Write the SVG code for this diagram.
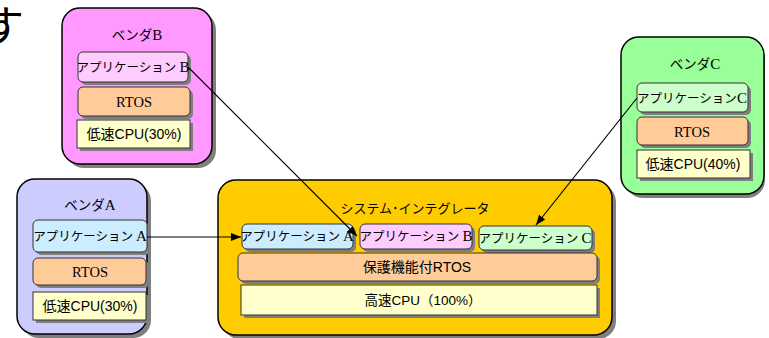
<svg xmlns="http://www.w3.org/2000/svg" width="769" height="338" viewBox="0 0 769 338">
<defs>
<style>
.big{stroke:#000;stroke-width:1.5}
.sh{fill:#7f7f7f}
.in{stroke:#333;stroke-width:1}
.ser{font-family:"Liberation Serif","Noto Sans CJK JP",serif;font-size:12.5px;fill:#000;text-anchor:middle}
.ttl{font-size:13.5px}
.rt{font-size:14.5px}
.L{font-size:15px}
.san{font-family:"Liberation Sans","Noto Sans CJK JP",sans-serif;font-size:14px;fill:#000;text-anchor:middle}
.con{stroke:#000;stroke-width:1.2;fill:none;marker-end:url(#ah)}
</style>
<marker id="ah" viewBox="0 0 10 8" refX="10" refY="4" markerWidth="10" markerHeight="8" markerUnits="userSpaceOnUse" orient="auto">
<path d="M0,0 L10,4 L0,8 Z" fill="#000"/>
</marker>
</defs>
<rect width="769" height="338" fill="#fff"/>
<text x="-19" y="42" style="font-family:'Noto Sans CJK JP',sans-serif;font-size:43px;fill:#000">す</text>

<g id="vendorB">
<rect x="66" y="12" width="150" height="156" rx="18" class="sh"/>
<rect x="62" y="8" width="150" height="156" rx="18" fill="#FF99FF" class="big"/>
<text x="137" y="40" class="ser ttl">ベンダ<tspan class="L">B</tspan></text>
<rect x="81" y="55" width="110" height="30" rx="5" class="sh"/>
<rect x="78" y="52" width="110" height="30" rx="5" fill="#FFCCFF" class="in"/>
<text x="133" y="72" class="ser">アプリケーション <tspan class="L">B</tspan></text>
<rect x="81" y="90" width="112" height="29" rx="5" class="sh"/>
<rect x="78" y="87" width="112" height="29" rx="5" fill="#FFCC99" class="in"/>
<text x="134" y="107" class="ser rt">RTOS</text>
<rect x="80" y="123" width="113" height="28" class="sh"/>
<rect x="77" y="120" width="113" height="28" fill="#FFFFCC" class="in"/>
<text x="134" y="139" class="san">低速CPU(30%)</text>
</g>

<g id="vendorC">
<rect x="625" y="41" width="140" height="157" rx="18" class="sh"/>
<rect x="621" y="37" width="143" height="157" rx="18" fill="#99FF99" class="big"/>
<text x="695" y="69" class="ser ttl">ベンダ<tspan class="L">C</tspan></text>
<rect x="640" y="86" width="111" height="29" rx="5" class="sh"/>
<rect x="637" y="83" width="111" height="29" rx="5" fill="#CCFFCC" class="in"/>
<text x="692" y="103" class="ser">アプリケーション<tspan class="L">C</tspan></text>
<rect x="640" y="120" width="111" height="28" rx="5" class="sh"/>
<rect x="637" y="117" width="111" height="28" rx="5" fill="#FFCC99" class="in"/>
<text x="692" y="137" class="ser rt">RTOS</text>
<rect x="640" y="153" width="113" height="28" class="sh"/>
<rect x="637" y="150" width="113" height="28" fill="#FFFFCC" class="in"/>
<text x="693" y="169" class="san">低速CPU(40%)</text>
</g>

<g id="vendorA">
<rect x="21" y="183" width="130" height="155" rx="18" class="sh"/>
<rect x="17" y="179" width="130" height="155" rx="18" fill="#CCCCFF" class="big"/>
<text x="90" y="210" class="ser ttl">ベンダ<tspan class="L">A</tspan></text>
<rect x="36" y="223" width="114" height="32" rx="5" class="sh"/>
<rect x="33" y="220" width="114" height="32" rx="5" fill="#CCECFF" class="in"/>
<text x="90" y="241" class="ser">アプリケーション <tspan class="L">A</tspan></text>
<rect x="36" y="261" width="113" height="27" rx="5" class="sh"/>
<rect x="33" y="258" width="113" height="27" rx="5" fill="#FFCC99" class="in"/>
<text x="90" y="277" class="ser rt">RTOS</text>
<rect x="36" y="295" width="113" height="28" class="sh"/>
<rect x="33" y="292" width="113" height="28" fill="#FFFFCC" class="in"/>
<text x="90" y="311" class="san">低速CPU(30%)</text>
</g>

<g id="integrator">
<rect x="222" y="184" width="394" height="155" rx="18" class="sh"/>
<rect x="218" y="180" width="394" height="155" rx="18" fill="#FFCC00" class="big"/>
<text x="415" y="213" class="san" style="font-size:13px">システム･インテグレータ</text>
<rect x="245" y="227" width="111" height="25" rx="5" class="sh"/>
<rect x="242" y="224" width="111" height="25" rx="5" fill="#CCECFF" class="in"/>
<text x="297" y="241" class="ser">アプリケーション <tspan class="L">A</tspan></text>
<rect x="363" y="227" width="112" height="25" rx="5" class="sh"/>
<rect x="360" y="224" width="112" height="25" rx="5" fill="#FFCCFF" class="in"/>
<text x="416" y="241" class="ser">アプリケーション <tspan class="L">B</tspan></text>
<rect x="482" y="229" width="113" height="24" rx="5" class="sh"/>
<rect x="479" y="226" width="113" height="24" rx="5" fill="#CCFFCC" class="in"/>
<text x="535" y="243" class="ser">アプリケーション <tspan class="L">C</tspan></text>
<rect x="241" y="256" width="359" height="28" rx="5" class="sh"/>
<rect x="238" y="253" width="359" height="28" rx="5" fill="#FFCC99" class="in"/>
<text x="417" y="272" class="san">保護機能付RTOS</text>
<rect x="244" y="288" width="356" height="30" class="sh"/>
<rect x="241" y="285" width="356" height="30" fill="#FFFFCC" class="in"/>
<text x="423" y="305" class="san" style="font-size:13.5px">高速CPU（100%）</text>
</g>

<g id="connectors">
<line x1="147" y1="237" x2="241" y2="237" class="con"/>
<line x1="188" y1="67" x2="357" y2="236" class="con"/>
<line x1="637" y1="98" x2="536" y2="225" class="con"/>
</g>
</svg>
